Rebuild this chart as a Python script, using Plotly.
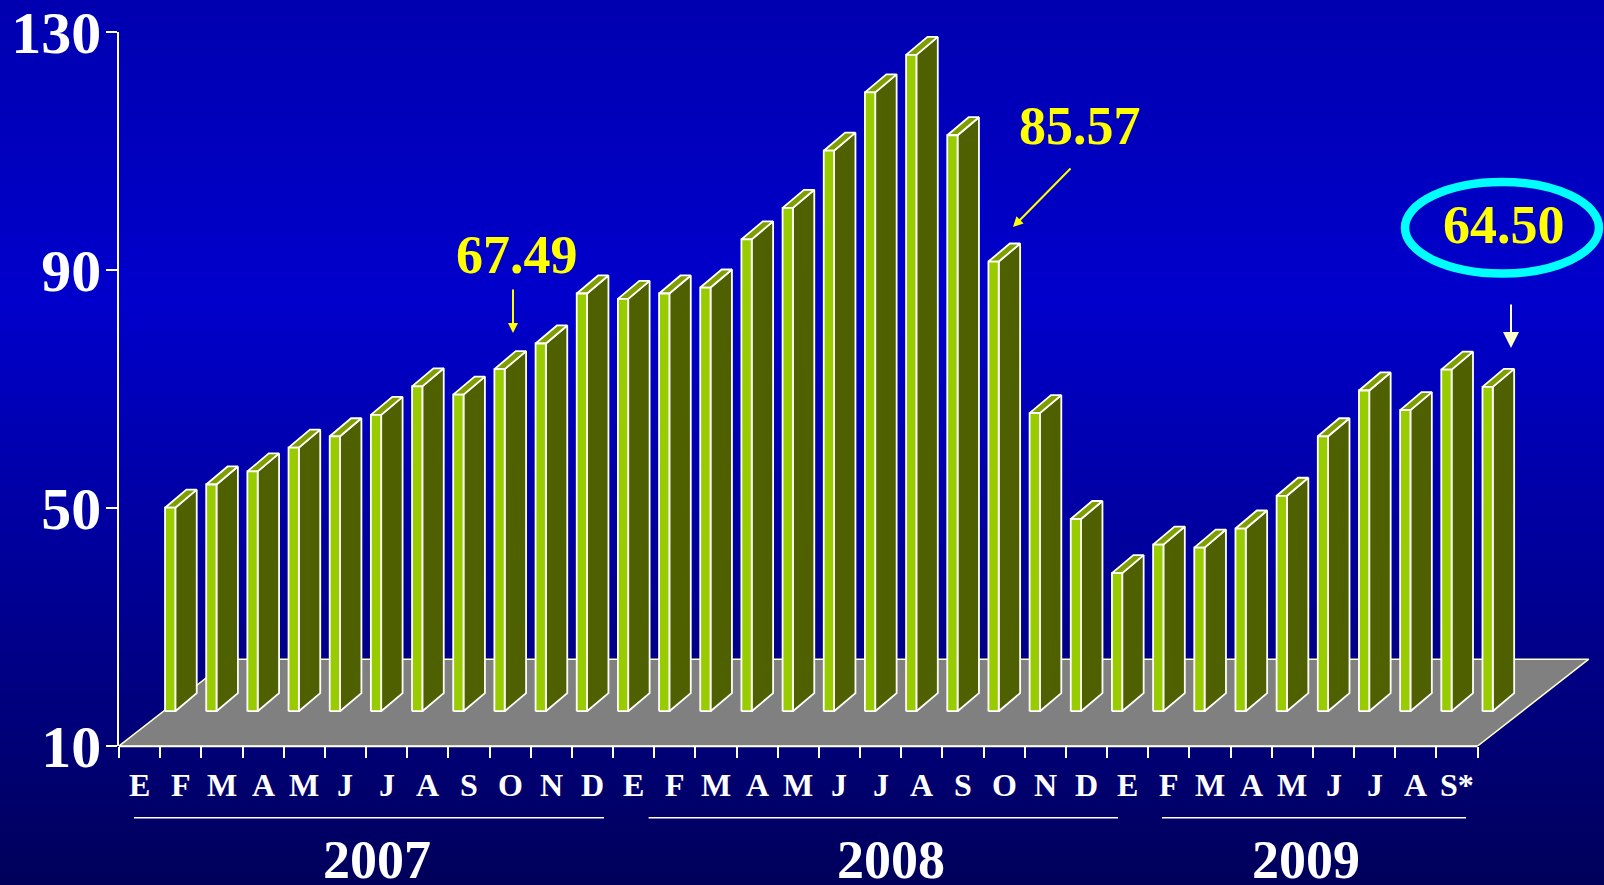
import plotly.graph_objects as go

MONTHS = ["E","F","M","A","M","J","J","A","S","O","N","D",
          "E","F","M","A","M","J","J","A","S","O","N","D",
          "E","F","M","A","M","J","J","A","S*"]
VALUES = [44.2,48.1,50.3,54.3,56.2,59.8,64.6,63.2,67.49,71.8,80.2,79.3,
          80.2,81.2,89.3,94.6,104.2,114.0,120.3,106.8,85.57,60.1,42.3,33.2,
          38.0,37.5,40.7,46.2,56.2,63.9,60.6,67.4,64.50]
YEARS = ["2007","2008","2009"]
Y_TICKS = [10,50,90,130]

W, H = 1604, 885
L, T, B = 119, 32, 139
PW, PH = W - L, H - T - B
CAT = 41.17
XMAX = PW / CAT
UNIT = PH / 120.0
SERIF = "Liberation Serif"

def px(x): return (x - L) / PW
def py(y): return 1 - (y - T) / PH
def catx(x): return (x - L) / CAT

# bar geometry in axis units
XO, BW, DX = 1.118, 0.25, 0.52
BASE, DY = 15.85, 3.03
FX, FY = 2.70, 14.6

front_x, front_y, side_x, side_y, top_x, top_y = [], [], [], [], [], []
for i, v in enumerate(VALUES):
    xl = i + XO
    xr = xl + BW
    t = v + BASE - 10
    front_x += [xl, xr, xr, xl, xl, None]
    front_y += [BASE, BASE, t, t, BASE, None]
    side_x += [xr, xr + DX, xr + DX, xr, xr, None]
    side_y += [BASE, BASE + DY, t + DY, t, BASE, None]
    top_x += [xl, xr, xr + DX, xl + DX, xl, None]
    top_y += [t, t, t + DY, t + DY, t, None]

fig = go.Figure()
fig.add_trace(go.Scatter(x=[0, 33, 33 + FX, FX, 0], y=[10, 10, 10 + FY, 10 + FY, 10],
                         mode="lines", fill="toself", fillcolor="#808080",
                         line=dict(color="#FFFFCC", width=1.5), hoverinfo="skip"))
for xs, ys, col in [(side_x, side_y, "#4F6000"), (top_x, top_y, "#7F9F00"), (front_x, front_y, "#99CC00")]:
    fig.add_trace(go.Scatter(x=xs, y=ys, mode="lines", fill="toself", fillcolor=col,
                             line=dict(color="#FFFFFF", width=1.8), hoverinfo="skip"))

# background gradient
def bg(y):
    stops = [(0, 176), (300, 204), (885, 90)]
    for (a, ca), (b, cb) in zip(stops, stops[1:]):
        if y <= b:
            return round(ca + (cb - ca) * (y - a) / (b - a))
    return 90

shapes = []
for y in range(0, H, 2):
    shapes.append(dict(type="rect", xref="paper", yref="paper", layer="below",
                       x0=px(0), x1=px(W), y0=py(y), y1=py(H + 2),
                       fillcolor=f"rgb(0,0,{bg(y)})", line=dict(width=0)))
# year rules
for a, b in [(134, 604), (648.6, 1118), (1162, 1466)]:
    shapes.append(dict(type="line", xref="x", yref="paper", x0=catx(a), x1=catx(b),
                       y0=py(817.7), y1=py(817.7), line=dict(color="#FFFFFF", width=1.5)))
# category axis line, ending at the last tick
shapes.append(dict(type="line", xref="x", yref="paper", x0=0, x1=33,
                   y0=py(746.6), y1=py(746.6), line=dict(color="#FFFFFF", width=1.5)))
# ellipse
shapes.append(dict(type="circle", xref="paper", yref="paper", x0=px(1405), x1=px(1599),
                   y0=py(273.5), y1=py(182), line=dict(color="#00FFFF", width=8.5)))

ann = []
for i, m in enumerate(MONTHS):
    ann.append(dict(x=i + 0.5, y=py(785), xref="x", yref="paper", text=m, showarrow=False,
                    xanchor="center", yanchor="middle",
                    font=dict(family=SERIF, size=32, color="#FFFFFF", weight=700)))
for yr, cx in zip(YEARS, [376.5, 891, 1306]):
    ann.append(dict(x=px(cx), y=py(860), xref="paper", yref="paper", text=yr, showarrow=False,
                    xanchor="center", yanchor="middle", height=48, valign="middle",
                    font=dict(family=SERIF, size=54, color="#FFFFFF", weight=700)))
for txt, cx, cy in [("67.49", 516.6, 255), ("85.57", 1080, 126), ("64.50", 1504, 225)]:
    ann.append(dict(x=px(cx), y=py(cy), xref="paper", yref="paper", text=txt, showarrow=False,
                    xanchor="center", yanchor="middle",
                    font=dict(family=SERIF, size=54, color="#FFFF00", weight=700)))
for (x0, y0, x1, y1, col, size) in [(513, 288, 513, 333, "#FFFF00", 1.0),
                                    (1072, 167, 1013, 227, "#FFFF00", 1.0),
                                    (1511, 303, 1511, 348, "#FFFFCC", 1.6)]:
    ann.append(dict(x=px(x1), y=py(y1), xref="paper", yref="paper", ax=x0 - x1, ay=y0 - y1,
                    axref="pixel", ayref="pixel", text="", showarrow=True,
                    arrowhead=2, arrowsize=size, arrowwidth=2, arrowcolor=col))

fig.update_layout(
    width=W, height=H, autosize=False, showlegend=False,
    margin=dict(l=L, r=0, t=T, b=B, pad=0),
    paper_bgcolor="#0000AA", plot_bgcolor="rgba(0,0,0,0)",
    shapes=shapes, annotations=ann,
    xaxis=dict(range=[0, XMAX], tickmode="array", tickvals=list(range(34)),
               ticktext=[""] * 34, ticks="outside", ticklen=11, tickwidth=1.5,
               tickcolor="#FFFFFF", showline=False,
               showgrid=False, zeroline=False),
    yaxis=dict(range=[10, 130], tickmode="array", tickvals=Y_TICKS,
               ticks="outside", ticklen=11, tickwidth=1.5, tickcolor="#FFFFFF",
               showline=True, linecolor="#FFFFFF", linewidth=1.5, showgrid=False, zeroline=False,
               ticklabeloverflow="allow", ticklabelstandoff=-7,
               tickfont=dict(family=SERIF, size=60, color="#FFFFFF", weight=700)),
)
fig.write_html("out.html", config=dict(displayModeBar=False),
               post_script="document.body.style.margin='0';document.body.style.overflow='hidden';")
